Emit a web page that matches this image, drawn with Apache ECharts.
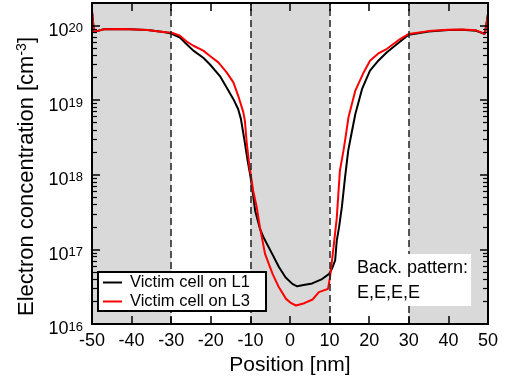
<!DOCTYPE html>
<html>
<head>
<meta charset="utf-8">
<script src="https://cdn.jsdelivr.net/npm/echarts@6/dist/echarts.min.js"></script>
<style>
  html, body { margin: 0; padding: 0; background: #fff; }
  #chart { width: 505px; height: 382px; }
</style>
</head>
<body>
<div id="chart"></div>
<script>
// Electron concentration profile across the victim cell
const xMin = -50, xMax = 50, xStep = 10;
const yMin = 1e16, yMax = 2e20;
const yTickExponents = [16, 17, 18, 19, 20];

// Gate regions (shaded) and cell boundaries (dashed)
const shadedRanges = [[-50, -30], [-10, 10], [30, 50]];
const boundaryLines = [-30, -10, 10, 30];

const seriesNames = ['Victim cell on L1', 'Victim cell on L3'];

// Victim cell on L1: [position nm, concentration cm^-3]
const victimL1 = [
  [-50, 1.55e20], [-49.5, 8.2e19], [-47, 8.9e19], [-42, 9.0e19], [-36, 8.7e19],
  [-31.5, 8.1e19], [-30, 7.8e19], [-27.8, 6.9e19], [-25.7, 5.35e19], [-24.4, 4.6e19],
  [-21.9, 3.7e19], [-20.2, 3.0e19], [-17.7, 2.1e19], [-16.0, 1.48e19], [-14.3, 1.03e19],
  [-13.1, 7.6e18], [-12.4, 5.6e18], [-11.5, 2.9e18], [-10.7, 1.55e18], [-10.1, 1.03e18],
  [-9.6, 7.0e17], [-8.8, 3.3e17], [-7.6, 1.9e17], [-6.7, 1.45e17], [-4.5, 8.7e16],
  [-2.8, 5.8e16], [-1.1, 4.2e16], [0.6, 3.45e16], [1.8, 3.2e16], [3.1, 3.3e16],
  [5.6, 3.5e16], [8.1, 4.0e16], [9.9, 4.7e16], [10.6, 5.5e16], [11.4, 7.1e16],
  [11.8, 1.3e17], [12.4, 2.0e17], [13.1, 3.7e17], [13.9, 9.2e17], [14.7, 2.1e18],
  [15.2, 2.9e18], [16.5, 6.5e18], [18.2, 1.41e19], [20.2, 2.48e19], [22.3, 3.37e19],
  [24.4, 4.35e19], [26.5, 5.35e19], [28.6, 6.6e19], [30, 7.5e19], [35, 8.3e19],
  [40, 8.7e19], [43.5, 8.75e19], [47, 8.5e19], [49.2, 7.7e19], [50, 1.42e20]
];

// Victim cell on L3
const victimL3 = [
  [-50, 1.57e20], [-49.5, 8.2e19], [-47, 8.9e19], [-42, 9.0e19], [-36, 8.7e19],
  [-31.5, 8.1e19], [-30, 8.06e19], [-27.8, 7.3e19], [-26.1, 6.1e19], [-24.4, 5.35e19],
  [-21.9, 4.6e19], [-20.2, 3.9e19], [-18.1, 3.2e19], [-16.0, 2.35e19], [-14.3, 1.73e19],
  [-13.1, 1.15e19], [-11.8, 6.9e18], [-11.4, 5.3e18], [-10.9, 2.6e18], [-10.2, 1.26e18],
  [-9.3, 6.1e17], [-8.4, 3.66e17], [-7.6, 1.98e17], [-6.3, 8.7e16], [-4.4, 4.7e16],
  [-2.8, 3.1e16], [-1.0, 2.17e16], [0.3, 1.9e16], [1.5, 1.77e16], [3.6, 1.9e16],
  [5.7, 2.13e16], [7.3, 2.67e16], [9.6, 2.96e16], [10.1, 4.2e16], [11.0, 1.07e17],
  [11.8, 2.6e17], [12.6, 1.13e18], [13.5, 2.1e18], [13.9, 2.86e18], [14.8, 6.0e18],
  [16.5, 1.34e19], [18.6, 2.35e19], [20.2, 3.37e19], [22.3, 4.22e19], [24.4, 4.83e19],
  [26.1, 5.64e19], [27.8, 6.58e19], [29.9, 7.67e19], [35, 8.4e19], [40, 8.75e19],
  [43.5, 8.8e19], [47, 8.6e19], [49.2, 7.7e19], [50, 1.42e20]
];

const noteLines = ['Back. pattern:', 'E,E,E,E'];

const FONT = '"Liberation Sans", Arial, sans-serif';

// minor ticks of the log axis: 2..9 within every decade
const minorTickValues = [];
for (let e = yTickExponents[0]; e < yTickExponents[yTickExponents.length - 1]; e++) {
  for (let m = 2; m <= 9; m++) minorTickValues.push(m * Math.pow(10, e));
}

function powerLabel(v) {
  const e = Math.round(Math.log10(v));
  if (yTickExponents.indexOf(e) < 0 || Math.abs(v / Math.pow(10, e) - 1) > 1e-6) return '';
  return '{b|10}{s|' + e + '}';
}

const chart = echarts.init(document.getElementById('chart'), null, { renderer: 'canvas' });

function frameLine() { return { show: true, onZero: false, lineStyle: { color: '#000', width: 2 } }; }
function majorTick() { return { show: true, inside: true, length: 8, lineStyle: { color: '#000', width: 1.5 } }; }

function minorAxis(position) {
  return {
    type: 'log', logBase: 10, min: yMin, max: yMax, position: position, z: 20,
    axisLine: { show: false, onZero: false },
    axisTick: { show: true, inside: true, length: 5, lineStyle: { color: '#000', width: 1.2 }, customValues: minorTickValues },
    axisLabel: { show: false }, splitLine: { show: false }
  };
}

chart.setOption({
  animation: false,
  textStyle: { fontFamily: FONT, color: '#000' },
  grid: { left: 92, right: 17, top: 3, bottom: 58, containLabel: false },
  xAxis: [
    {
      type: 'value', min: xMin, max: xMax, interval: xStep, position: 'bottom', z: 20,
      name: 'Position [nm]', nameLocation: 'middle', nameGap: 29,
      nameTextStyle: { fontSize: 21, color: '#000', fontFamily: FONT },
      axisLine: frameLine(),
      axisTick: majorTick(),
      axisLabel: { fontSize: 18, color: '#000', margin: 8, fontFamily: FONT },
      splitLine: { show: false }
    },
    {
      type: 'value', min: xMin, max: xMax, interval: xStep, position: 'top', z: 20,
      axisLine: frameLine(),
      axisTick: majorTick(),
      axisLabel: { show: false }, splitLine: { show: false }
    }
  ],
  yAxis: [
    {
      type: 'log', logBase: 10, min: yMin, max: yMax, position: 'left', z: 20,
      name: '{a|Electron concentration [cm}{s|-3}{a|]}',
      nameLocation: 'middle', nameGap: 54,
      nameTextStyle: {
        padding: [0, 26, 0, 0],
        rich: {
          a: { fontSize: 22, fontFamily: FONT, color: '#000', verticalAlign: 'bottom', lineHeight: 22, padding: [5, 0, 0, 0] },
          s: { fontSize: 14, fontFamily: FONT, color: '#000', verticalAlign: 'top', lineHeight: 14 }
        }
      },
      axisLine: frameLine(),
      axisTick: majorTick(),
      axisLabel: {
        formatter: powerLabel, margin: 9, showMaxLabel: false, padding: [11, 0, 0, 0],
        rich: {
          b: { fontSize: 18, fontFamily: FONT, color: '#000', verticalAlign: 'bottom', lineHeight: 18, padding: [6, 0, 0, 0] },
          s: { fontSize: 13, fontFamily: FONT, color: '#000', verticalAlign: 'top', lineHeight: 13 }
        }
      },
      splitLine: { show: false }
    },
    {
      type: 'log', logBase: 10, min: yMin, max: yMax, position: 'right', z: 20,
      axisLine: frameLine(),
      axisTick: majorTick(),
      axisLabel: { show: false }, splitLine: { show: false }
    },
    minorAxis('left'),
    minorAxis('right')
  ],
  legend: {
    left: 99, top: 273, orient: 'vertical', z: 30,
    data: seriesNames,
    icon: 'rect', itemWidth: 19, itemHeight: 2, itemGap: 2,
    padding: [1, 4, 3, 4],
    textStyle: { fontSize: 16.5, color: '#000', fontFamily: FONT, padding: [0, 0, 0, 3] },
    selectedMode: false
  },
  graphic: [
    {
      // frame behind the legend entries
      type: 'rect', z: 25, silent: true,
      shape: { x: 98, y: 272, width: 168, height: 39 },
      style: { fill: '#fff', stroke: '#000', lineWidth: 2 }
    },
    {
      type: 'text', left: 353, top: 254, z: 25,
      style: {
        text: noteLines.join('\n'), fill: '#000', font: '18px ' + FONT,
        lineHeight: 25, backgroundColor: '#fff', padding: [2, 3, 0, 4]
      }
    }
  ],
  series: [
    {
      type: 'line', data: [], silent: true, z: 1, xAxisIndex: 0, yAxisIndex: 0,
      markArea: {
        silent: true,
        itemStyle: { color: '#d9d9d9' },
        data: shadedRanges.map(r => [{ xAxis: r[0] }, { xAxis: r[1] }])
      }
    },
    {
      type: 'line', data: [], silent: true, z: 2, xAxisIndex: 0, yAxisIndex: 0,
      markLine: {
        silent: true, symbol: ['none', 'none'], label: { show: false },
        lineStyle: { color: '#222', type: [7, 4], width: 1.5 },
        data: boundaryLines.map(v => ({ xAxis: v }))
      }
    },
    {
      name: seriesNames[0], type: 'line', data: victimL1, z: 3,
      showSymbol: false, symbol: 'none',
      lineStyle: { color: '#000', width: 2 }, itemStyle: { color: '#000' },
      emphasis: { disabled: true }
    },
    {
      name: seriesNames[1], type: 'line', data: victimL3, z: 4,
      showSymbol: false, symbol: 'none',
      lineStyle: { color: '#ff0000', width: 2 }, itemStyle: { color: '#ff0000' },
      emphasis: { disabled: true }
    }
  ]
});
</script>
</body>
</html>
